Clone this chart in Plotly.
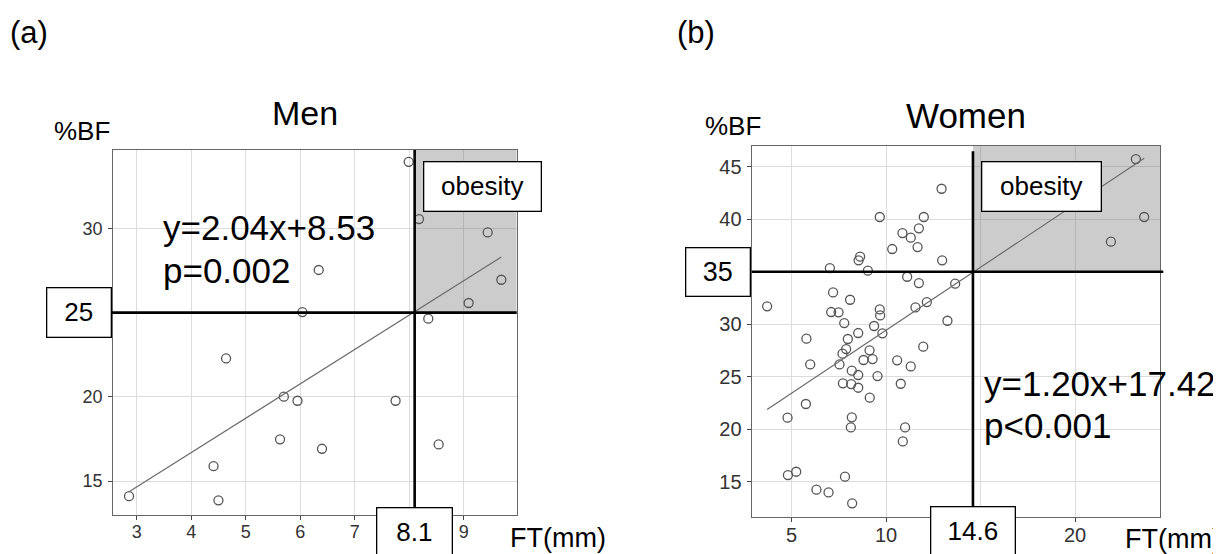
import plotly.graph_objects as go

# page size and the browser's default body margin (the figure is drawn offset by it)
PAGE_W, PAGE_H = 1221, 554
OFF = 8
W, H = PAGE_W - OFF, PAGE_H - OFF

# ---------------- data ----------------
men_ft = [7.99, 8.18, 9.44, 9.69, 9.09, 8.35, 6.34, 6.04, 4.64, 5.70, 5.95, 7.75,
          5.63, 6.40, 8.54, 4.41, 2.86, 4.50]
men_bf = [33.95, 30.55, 29.76, 26.95, 25.57, 24.64, 27.53, 25.03, 22.28, 20.01, 19.77, 19.77,
          17.48, 16.92, 17.18, 15.89, 14.11, 13.86]

women_ft = [23.22, 23.66, 21.90, 12.94, 9.67, 12.00, 10.87, 11.74, 11.31, 10.33, 11.67, 8.63,
            8.55, 12.97, 7.03, 9.04, 11.12, 11.74, 13.66, 7.20, 8.10, 12.16, 3.71, 11.56,
            9.67, 7.10, 7.49, 9.69, 13.25, 7.79, 9.37, 9.81, 8.53, 5.79, 7.98, 11.97,
            7.89, 9.13, 7.70, 8.81, 9.29, 10.59, 5.99, 7.54, 11.31, 8.19, 8.53, 9.55,
            7.72, 8.16, 8.53, 10.78, 5.76, 9.14, 4.79, 8.19, 8.14, 11.01, 10.89, 5.25,
            4.81, 7.83, 6.32, 6.96, 8.21]
women_bf = [45.73, 40.21, 37.86, 42.90, 40.21, 40.21, 38.68, 39.13, 38.24, 37.16, 37.35, 36.43,
            36.08, 36.08, 35.35, 35.10, 34.52, 33.92, 33.86, 33.03, 32.33, 32.11, 31.70, 31.60,
            31.41, 31.16, 31.13, 30.84, 30.33, 30.11, 29.83, 29.13, 29.16, 28.62, 28.59, 27.86,
            27.63, 27.51, 27.19, 26.59, 26.68, 26.56, 26.17, 26.17, 25.98, 25.57, 25.16, 25.06,
            24.37, 24.30, 23.95, 24.33, 22.40, 23.00, 21.10, 21.13, 20.17, 20.17, 18.84, 15.95,
            15.63, 15.48, 14.24, 13.98, 12.94]

men_slope, men_intercept = 2.04, 8.53
women_slope, women_intercept = 1.20, 17.42
men_ft_cut, men_bf_cut = 8.1, 25
women_ft_cut, women_bf_cut = 14.6, 35

men_xticks = [3, 4, 5, 6, 7, 8, 9]
men_xticktext = ["3", "4", "5", "6", "7", "", "9"]
men_yticks = [15, 20, 25, 30]
men_yticktext = ["15", "20", "", "30"]
women_xticks = [5, 10, 15, 20]
women_xticktext = ["5", "10", "", "20"]
women_yticks = [15, 20, 25, 30, 35, 40, 45]
women_yticktext = ["15", "20", "25", "30", "", "40", "45"]

men_xrange = [2.571, 9.972]
men_yrange = [12.99, 34.65]
women_xrange = [2.894, 24.497]
women_yrange = [11.61, 47.0]

# ---------------- helpers (page pixels -> paper) ----------------
def px(x):
    return (x - OFF) / W

def py(y):
    return 1 - (y - OFF) / H

FONT = "Liberation Sans, Arial, sans-serif"
PT_COLOR = "#555555"

fig = go.Figure()

# scatter points
fig.add_trace(go.Scatter(x=men_ft, y=men_bf, mode="markers", xaxis="x", yaxis="y",
                         marker=dict(symbol="circle-open", size=9, color=PT_COLOR,
                                     line=dict(width=1.3, color=PT_COLOR)),
                         showlegend=False, hoverinfo="x+y"))
fig.add_trace(go.Scatter(x=women_ft, y=women_bf, mode="markers", xaxis="x2", yaxis="y2",
                         marker=dict(symbol="circle-open", size=9, color=PT_COLOR,
                                     line=dict(width=1.3, color=PT_COLOR)),
                         showlegend=False, hoverinfo="x+y"))

# regression lines
mx = [min(men_ft), max(men_ft)]
fig.add_trace(go.Scatter(x=mx, y=[men_slope * v + men_intercept for v in mx], mode="lines",
                         xaxis="x", yaxis="y", line=dict(color="#6b6b6b", width=1.2),
                         showlegend=False, hoverinfo="skip"))
wx = [min(women_ft), max(women_ft)]
fig.add_trace(go.Scatter(x=wx, y=[women_slope * v + women_intercept for v in wx], mode="lines",
                         xaxis="x2", yaxis="y2", line=dict(color="#6b6b6b", width=1.2),
                         showlegend=False, hoverinfo="skip"))

shapes = []
SHADE = "rgba(90,90,90,0.31)"
# shaded obesity regions
shapes.append(dict(type="rect", xref="x", yref="y", x0=men_ft_cut, x1=men_xrange[1],
                   y0=men_bf_cut, y1=men_yrange[1], fillcolor=SHADE, line_width=0, layer="between"))
shapes.append(dict(type="rect", xref="x2", yref="y2", x0=women_ft_cut, x1=women_xrange[1],
                   y0=women_bf_cut, y1=women_yrange[1], fillcolor=SHADE, line_width=0, layer="between"))
# cut lines
LW = 2.6
shapes.append(dict(type="line", xref="x", yref="y domain", x0=men_ft_cut, x1=men_ft_cut,
                   y0=0, y1=1, line=dict(color="black", width=LW)))
shapes.append(dict(type="line", xref="x domain", yref="y", x0=-0.01, x1=1,
                   y0=men_bf_cut, y1=men_bf_cut, line=dict(color="black", width=LW)))
shapes.append(dict(type="line", xref="x2", yref="y2 domain", x0=women_ft_cut, x1=women_ft_cut,
                   y0=0, y1=0.985, line=dict(color="black", width=LW)))
shapes.append(dict(type="line", xref="x2 domain", yref="y2", x0=0, x1=1.008,
                   y0=women_bf_cut, y1=women_bf_cut, line=dict(color="black", width=LW)))

ann = []

def text(x, y, s, size, xanchor="left", color="black"):
    ann.append(dict(x=px(x), y=py(y), xref="paper", yref="paper", text=s, showarrow=False,
                    xanchor=xanchor, yanchor="middle",
                    font=dict(family=FONT, size=size, color=color)))

def box(s, size, w, h, x=None, y=None, xref="paper", yref="paper"):
    ann.append(dict(x=x, y=y, xref=xref, yref=yref, text=s, showarrow=False,
                    xanchor="center", yanchor="middle", width=w, height=h,
                    bgcolor="white", bordercolor="black", borderwidth=1.3, borderpad=0,
                    font=dict(family=FONT, size=size, color="black")))

text(8, 32.5, "(a)", 31)
text(675, 33, "(b)", 31)
text(305, 113.5, "Men", 34, xanchor="center")
text(966, 115.5, "Women", 35, xanchor="center")
text(51.7, 131, "%BF", 26)
text(703.3, 126, "%BF", 26)
text(508.3, 538, "FT(mm)", 27)
text(1122.7, 539, "FT(mm)", 27)
text(161, 227, "y=2.04x+8.53", 35)
text(161, 270, "p=0.002", 35)
text(981.7, 383.5, "y=1.20x+17.42", 35)
text(981.7, 426, "p<0.001", 35)

box("obesity", 26, 116, 48, x=px(482.4), y=py(186.5))
box("obesity", 26, 118, 48, x=px(1041.2), y=py(186.8))
box(str(men_bf_cut), 26, 63, 48, x=px(78.7), y=men_bf_cut, yref="y")
box(str(women_bf_cut), 27, 63, 47, x=px(718.3), y=women_bf_cut, yref="y2")
box(str(men_ft_cut), 26, 74, 48, x=men_ft_cut, y=py(532), xref="x")
box(str(women_ft_cut), 26, 83, 48, x=women_ft_cut, y=py(531.5), xref="x2")

common_axis = dict(showgrid=True, gridcolor="#dcdcdc", gridwidth=1, zeroline=False,
                   showline=True, linecolor="#666666", linewidth=1.2, mirror=True,
                   ticks="outside", ticklen=4, tickcolor="#444444", tickwidth=1,
                   fixedrange=True)

fig.update_layout(
    width=W, height=H,
    margin=dict(l=0, r=0, t=0, b=0),
    paper_bgcolor="white", plot_bgcolor="white",
    font=dict(family=FONT, color="#333333"),
    shapes=shapes, annotations=ann,
    xaxis=dict(domain=[px(113.3), px(516.7)], range=men_xrange, anchor="y",
               tickvals=men_xticks, ticktext=men_xticktext, ticklabelstandoff=-4,
               tickfont=dict(size=18, color="#333333", family=FONT), **common_axis),
    yaxis=dict(domain=[py(515), py(150)], range=men_yrange, anchor="x",
               tickvals=men_yticks, ticktext=men_yticktext, ticklabelstandoff=2,
               tickfont=dict(size=18, color="#333333", family=FONT), **common_axis),
    xaxis2=dict(domain=[px(751.7), px(1160)], range=women_xrange, anchor="y2",
                tickvals=women_xticks, ticktext=women_xticktext, ticklabelstandoff=-4,
                tickfont=dict(size=20, color="#333333", family=FONT), **common_axis),
    yaxis2=dict(domain=[py(517.3), py(145.7)], range=women_yrange, anchor="x2",
                tickvals=women_yticks, ticktext=women_yticktext, ticklabelstandoff=1,
                tickfont=dict(size=20, color="#333333", family=FONT), **common_axis),
)

fig.write_html("out.html")
